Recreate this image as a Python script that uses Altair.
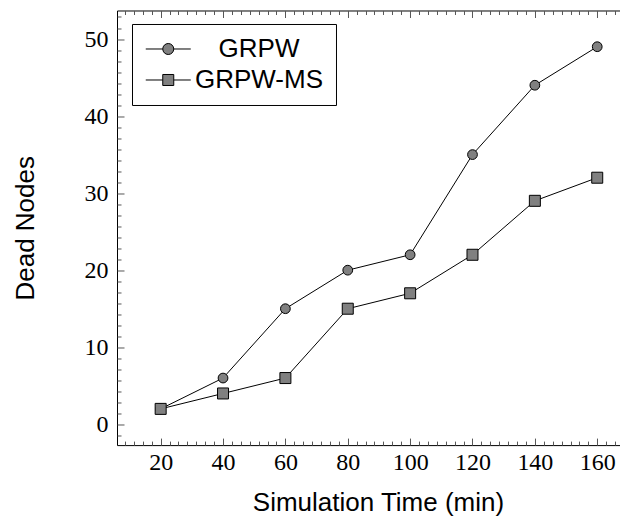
import altair as alt
import pandas as pd

# ---- data ----
times = [20, 40, 60, 80, 100, 120, 140, 160]
grpw = [2, 6, 15, 20, 22, 35, 44, 49]
grpw_ms = [2, 4, 6, 15, 17, 22, 29, 32]
series_names = ["GRPW", "GRPW-MS"]

x_major = [20, 40, 60, 80, 100, 120, 140, 160]
y_major = [0, 10, 20, 30, 40, 50]
x_domain = [6, 167.3]
y_domain = [-2.7, 53.7]
minor_per_major = 7

W, H = 503, 434.6

df = pd.DataFrame({
    "time": times + times,
    "value": grpw + grpw_ms,
    "series": [series_names[0]] * len(times) + [series_names[1]] * len(times),
})

# minor tick positions: 6 minor ticks between majors
x_minor = [round(20 + k * 20 / minor_per_major, 4) for k in range(-10, 60)
           if k % minor_per_major and x_domain[0] <= 20 + k * 20 / minor_per_major <= x_domain[1]]
y_minor = [round(k * 10 / minor_per_major, 4) for k in range(-10, 60)
           if k % minor_per_major and y_domain[0] <= k * 10 / minor_per_major <= y_domain[1]]

serif = "Liberation Serif"
sans = "Liberation Sans"
tick_col = "#555555"

xscale = alt.Scale(domain=x_domain, nice=False, zero=False)
yscale = alt.Scale(domain=y_domain, nice=False, zero=False)


def tick_axis(orient, values, size, offset, domain=False):
    return alt.Axis(orient=orient, values=values, labels=False, ticks=True,
                    tickSize=size, tickColor=tick_col, tickWidth=1,
                    domain=domain, domainColor="black", domainWidth=1,
                    grid=False, title=None, offset=offset)


x_bottom = alt.X(
    "time:Q", scale=xscale,
    axis=alt.Axis(
        orient="bottom", values=x_major, grid=False, format="d",
        ticks=False, tickSize=0,
        domainColor="black", domainWidth=1,
        labelFont=serif, labelFontSize=24, labelColor="black",
        labelPadding=5, labelOverlap=False, labelFlush=False,
        title="Simulation Time (min)", titleFont=sans, titleFontSize=26,
        titleFontWeight="normal", titleColor="black",
        titleX=261, titleY=65, titleBaseline="alphabetic", titleAlign="center",
    ),
)
y_left = alt.Y(
    "value:Q", scale=yscale,
    axis=alt.Axis(
        orient="left", values=y_major, grid=False, format="d",
        ticks=False, tickSize=0,
        domainColor="black", domainWidth=1,
        labelFont=serif, labelFontSize=24, labelColor="black",
        labelPadding=9, labelOverlap=False, labelFlush=False,
        title="Dead Nodes", titleFont=sans, titleFontSize=26,
        titleFontWeight="normal", titleColor="black",
        titleX=-84, titleBaseline="alphabetic",
    ),
)

lines = alt.Chart(df).mark_line(color="black", strokeWidth=1).encode(
    x=x_bottom, y=y_left, detail="series:N"
)

points = alt.Chart(df).mark_point(
    filled=True, fill="#808080", stroke="black", strokeWidth=1, opacity=1
).encode(
    x=alt.X("time:Q", scale=xscale, axis=None),
    y=alt.Y("value:Q", scale=yscale, axis=None),
    shape=alt.Shape("series:N", scale=alt.Scale(domain=series_names, range=["circle", "square"]), legend=None),
    size=alt.Size("series:N", scale=alt.Scale(domain=series_names, range=[95, 121]), legend=None),
)

# legend symbols: short line with the marker in the middle
r = 0.4889
circle_path = (f"M-1,0H{1-r:.4f}M{1+r:.4f},0H3"
               f"M{1-r:.4f},0A{r},{r},0,1,1,{1+r:.4f},0A{r},{r},0,1,1,{1-r:.4f},0Z")
square_path = (f"M-1,0H{1-r:.4f}M{1+r:.4f},0H3"
               f"M{1-r:.4f},{-r}H{1+r:.4f}V{r}H{1-r:.4f}Z")

legend_layer = alt.Chart(df).transform_filter("datum.time < 0").mark_point(
    filled=True, fill="#808080", stroke="black", strokeWidth=1, opacity=1
).encode(
    x=alt.X("time:Q", scale=xscale, axis=alt.Axis(
        orient="top", values=x_major, labels=False, ticks=False, grid=False, title=None,
        domainColor="black", domainWidth=1,
    )),
    y=alt.Y("value:Q", scale=yscale, axis=None),
    shape=alt.Shape(
        "series:N",
        scale=alt.Scale(domain=series_names, range=[circle_path, square_path]),
        legend=alt.Legend(
            title=None, orient="none", legendX=15, legendY=13.5, direction="vertical",
            symbolSize=506.25, symbolStrokeWidth=1, symbolOpacity=1,
            labelFont=sans, labelFontSize=26, labelColor="black",
            labelAlign="center", labelOffset=89, labelLimit=0,
            padding=12, rowPadding=5,
            strokeColor="black", fillColor="white",
        ),
    ),
)


def tick_layer(xa, ya=None):
    enc = {"x": alt.X("time:Q", scale=xscale, axis=xa)}
    enc["y"] = alt.Y("value:Q", scale=yscale, axis=ya)
    return alt.Chart(df).transform_filter("datum.time < 0").mark_point().encode(**enc)


# inward ticks: axes of the opposite orientation shifted onto the frame
t1 = tick_layer(tick_axis("top", x_major, 7, -H), tick_axis("right", y_major, 7, -W))
t2 = tick_layer(tick_axis("top", x_minor, 4, -H), tick_axis("right", y_minor, 4, -W))
t3 = tick_layer(tick_axis("bottom", x_major, 7, -H))
t4 = tick_layer(tick_axis("bottom", x_minor, 4, -H))

chart = alt.layer(lines, points, legend_layer, t1, t2, t3, t4).resolve_scale(
    shape="independent", size="independent"
).resolve_axis(x="independent", y="independent").properties(
    width=W, height=H,
    autosize=alt.AutoSizeParams(type="none"),
    padding={"left": 109, "top": 2.5, "right": 0, "bottom": 74},
    background="white",
).configure_view(stroke=None)

chart.save("out.html", embed_options={"renderer": "svg", "actions": False})
